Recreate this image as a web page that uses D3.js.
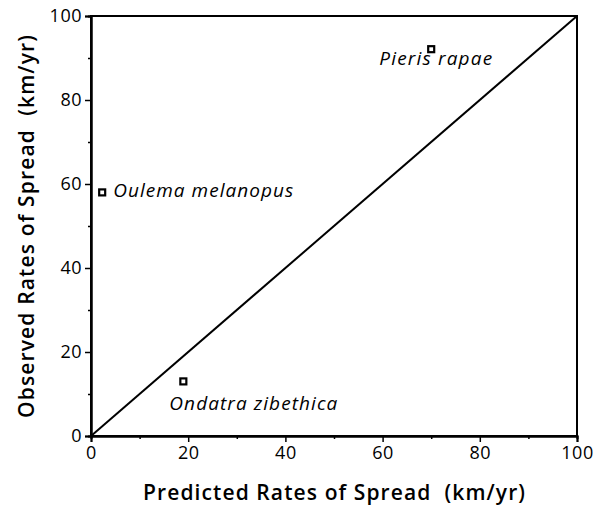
<!DOCTYPE html>
<html><head><meta charset="utf-8">
<script src="https://cdn.jsdelivr.net/npm/d3@7"></script>
<style>body{margin:0;background:#fff}svg{display:block}</style>
</head><body>
<svg id="c" width="594" height="506"></svg>
<script>
const species = ["Pieris rapae", "Oulema melanopus", "Ondatra zibethica"];
const predicted = [70, 2.3, 19];
const observed = [92.1, 58, 13];
const xTicks = [0, 20, 40, 60, 80, 100];
const yTicks = [0, 20, 40, 60, 80, 100];
const minorTicks = [10, 30, 50, 70, 90];
const lineData = [[0, 0], [100, 100]];
const labelOffsets = [[-52, 16], [11, 5], [-14, 29]];
const labelWidths = [113, 180, 168];

const svg = d3.select("#c");
const font = "'Open Sans', Lato, sans-serif";
const x = d3.scaleLinear().domain([0, 100]).range([91, 577]);
const y = d3.scaleLinear().domain([0, 100]).range([436, 16]);

const g = svg.append("g");
g.append("rect").attr("x", x(0)).attr("y", y(100)).attr("width", x(100) - x(0)).attr("height", y(0) - y(100))
  .attr("fill", "none").attr("stroke", "#000").attr("stroke-width", 2);

const xAxis = g.append("g").attr("transform", `translate(0,${y(0)})`)
  .call(d3.axisBottom(x).tickValues(xTicks).tickSize(6).tickPadding(4).tickFormat(d3.format("d")));
const xMinor = g.append("g").attr("transform", `translate(0,${y(0)})`)
  .call(d3.axisBottom(x).tickValues(minorTicks).tickSize(3).tickFormat(""));
const yAxis = g.append("g").attr("transform", `translate(${x(0)},0)`)
  .call(d3.axisLeft(y).tickValues(yTicks).tickSize(6).tickPadding(3).tickFormat(d3.format("d")));
const yMinor = g.append("g").attr("transform", `translate(${x(0)},0)`)
  .call(d3.axisLeft(y).tickValues(minorTicks).tickSize(3).tickFormat(""));
[xAxis, xMinor, yAxis, yMinor].forEach(a => {
  a.select(".domain").attr("stroke-width", 2);
  a.selectAll(".tick line").attr("stroke-width", 1.5);
  a.selectAll("text").attr("font-family", font).attr("font-size", 18)
    .attr("letter-spacing", 0.5).attr("fill", "#000");
});

g.append("path").datum(lineData)
  .attr("d", d3.line().x(d => x(d[0])).y(d => y(d[1])))
  .attr("stroke", "#000").attr("stroke-width", 2).attr("fill", "none");

const pts = species.map((s, i) => ({s, px: predicted[i], ob: observed[i], off: labelOffsets[i], w: labelWidths[i]}));
g.selectAll(".pt").data(pts).join("rect")
  .attr("x", d => x(d.px) - 3).attr("y", d => y(d.ob) - 3).attr("width", 6).attr("height", 6)
  .attr("fill", "#fff").attr("stroke", "#000").attr("stroke-width", 2.2);
g.selectAll(".lab").data(pts).join("text")
  .attr("x", d => x(d.px) + d.off[0]).attr("y", d => y(d.ob) + d.off[1])
  .attr("font-family", font).attr("font-style", "italic").attr("font-size", 19)
  .attr("textLength", d => d.w).attr("lengthAdjust", "spacing")
  .text(d => d.s);

svg.append("text").attr("x", 143).attr("y", 500)
  .attr("font-family", font).attr("font-size", 21).attr("font-weight", 600)
  .attr("textLength", 382).attr("lengthAdjust", "spacing")
  .attr("xml:space", "preserve").text("Predicted Rates of Spread  (km/yr)");
svg.append("text").attr("transform", "translate(34,418) rotate(-90)")
  .attr("font-family", font).attr("font-size", 21).attr("font-weight", 600)
  .attr("textLength", 383).attr("lengthAdjust", "spacing")
  .attr("xml:space", "preserve").text("Observed Rates of Spread  (km/yr)");
</script>
</body></html>
